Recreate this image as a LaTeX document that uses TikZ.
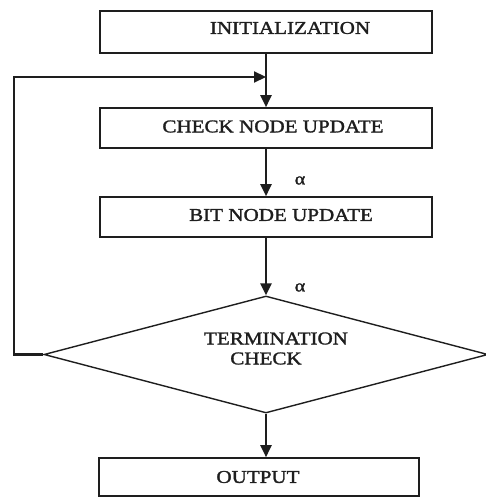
\documentclass[tikz,border=0pt]{standalone}
\usepackage{fontspec}
\setmainfont[FakeStretch=1.17,FakeBold=1.6]{Liberation Serif}
\usetikzlibrary{arrows.meta,shapes.geometric,calc}
\definecolor{ink}{HTML}{1E1E1E}
\tikzset{
  stepbox/.style={draw=ink, line width=1.6pt, minimum width=332pt, minimum height=40pt, inner sep=0pt},
  caption/.style={text=ink, font=\fontsize{18}{20}\selectfont, inner sep=0pt},
  greek/.style={text=ink, font=\fontsize{17}{18}\selectfont, inner sep=0pt},
  flow/.style={draw=ink, line width=2.4pt, -{Triangle[length=12pt,width=11pt]}},
  plain/.style={draw=ink, line width=2.2pt}
}
\begin{document}
\begin{tikzpicture}[x=1pt,y=-1pt]
\useasboundingbox (0,0) rectangle (486,497);
\fill[white] (0,0) rectangle (486,497);

% process boxes
\node[stepbox, minimum height=42pt] (init) at (266,32) {};
\node[stepbox] (check) at (266,128) {};
\node[stepbox] (bit) at (266,217) {};
\node[stepbox, minimum width=320pt, minimum height=38pt] (out) at (259,477) {};

% box captions
\node[caption] (tinit) at (290,28) {INITIALIZATION};
\node[caption] (tcheck) at (273,126.5) {CHECK NODE UPDATE};
\node[caption] (tbit) at (281,215) {BIT NODE UPDATE};
\node[caption] (tout) at (258,477) {OUTPUT};

% decision
\node[diamond, draw=ink, line width=1.4pt, minimum width=444pt, minimum height=117pt,
      inner sep=0pt, aspect=3.8] (term) at (266,354.5) {};
\node[caption] (tterm1) at (276,338.5) {TERMINATION};
\node[caption] (tterm2) at (266,358.5) {CHECK};

% main flow
\coordinate (join) at (266,77);
\draw[flow] (init.south) -- (check.north);
\draw[flow] (check.south) -- (bit.north);
\draw[flow] (bit.south) -- (term.north);
\draw[flow] (term.south) -- (term.south |- out.north);

% feedback loop
\coordinate (corner) at (14,0);
\draw[plain, -{Triangle[length=12pt,width=11pt]}] (term.west) -- (term.west -| corner) |- (join);

% edge labels
\node[greek] (a1) at (300,180.5) {α};
\node[greek] (a2) at (300,287.5) {α};
\end{tikzpicture}
\end{document}
